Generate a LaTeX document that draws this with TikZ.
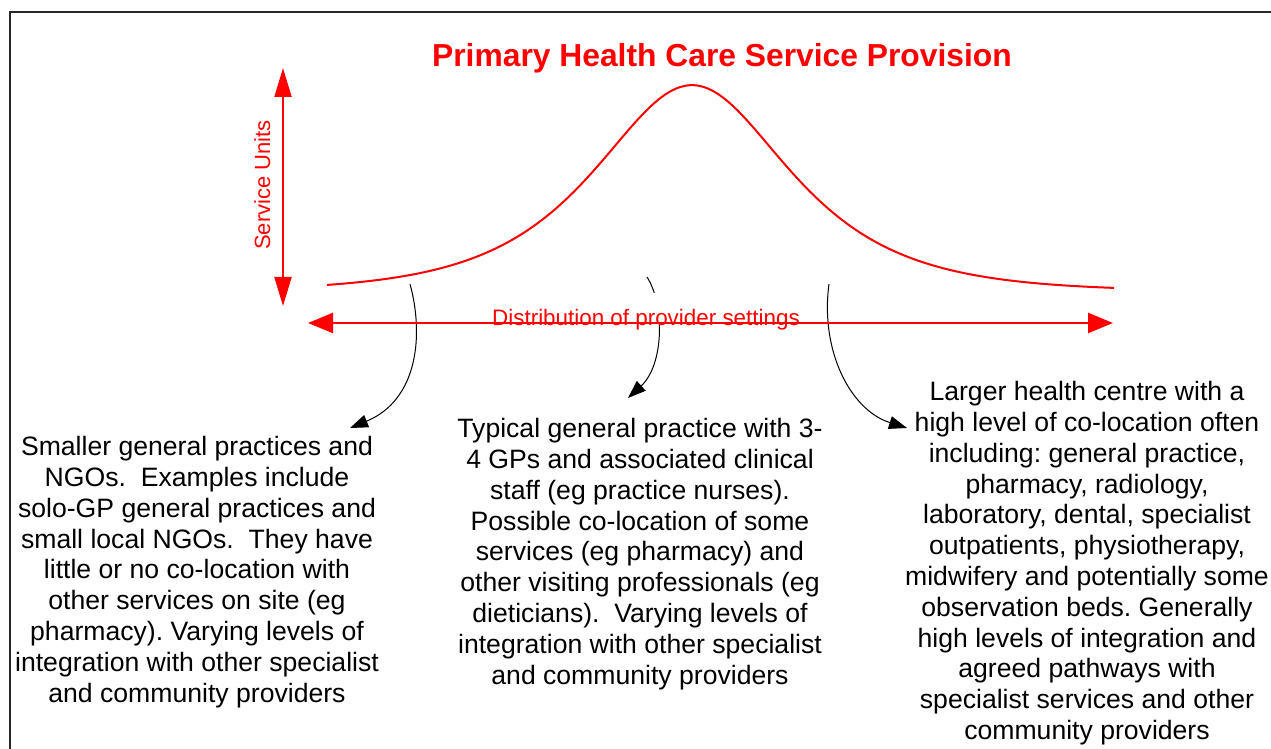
\documentclass[tikz,border=0pt]{standalone}
\usepackage{fontspec}
\setmainfont{Liberation Sans}
\usetikzlibrary{arrows.meta}
\definecolor{framegray}{RGB}{40,40,40}

\begin{document}
\begin{tikzpicture}[
    x=0.5pt, y=-0.5pt,
    note/.style={align=center, inner sep=0pt, anchor=north, font=\fontsize{13.3}{15.4}\selectfont\frenchspacing},
    pointer/.style={-{Triangle[length=9pt, width=6.5pt]}, black, line width=0.5pt},
    vaxis/.style={red, line width=1pt, {Triangle[length=14.5pt, width=8.5pt]}-{Triangle[length=14.5pt, width=8.5pt]}},
    haxis/.style={red, line width=1.3pt, {Triangle[length=12.5pt, width=10pt]}-{Triangle[length=12.5pt, width=10pt]}}
]
\useasboundingbox (0,0) rectangle (1271,749);

% === FRAME ===
\draw[framegray, line width=1pt] (10,800) -- (10,12) -- (1300,12);

% === TITLE ===
\node[font=\fontsize{15.9}{18}\selectfont\bfseries, text=red, anchor=base] (title) at (722,67) {Primary Health Care Service Provision};

% === DISTRIBUTION CURVE ===
\draw[red, line width=1pt] plot[domain=327:1114, samples=150, smooth]
    (\x, {287 - 206*(1/cosh((\x-692)/87) - 0.02)});

% Service units axis
\coordinate (utop) at (283,68);
\coordinate (ubot) at (283,306);
\draw[vaxis] (utop) -- (ubot);
\node[font=\fontsize{11}{13}\selectfont, text=red, rotate=90, anchor=base] (units) at (270,185) {Service Units};

% === PROVIDER SETTINGS (text) ===
\node[note] (small) at (197,436) {Smaller general practices and\\
    NGOs.\ \ Examples include\\
    solo-GP general practices and\\
    small local NGOs.\ \ They have\\
    little or no co-location with\\
    other services on site (eg\\
    pharmacy). Varying levels of\\
    integration with other specialist\\
    and community providers};
\node[note] (typical) at (640,418) {Typical general practice with 3-\\
    4 GPs and associated clinical\\
    staff (eg practice nurses).\\
    Possible co-location of some\\
    services (eg pharmacy) and\\
    other visiting professionals (eg\\
    dieticians).\ \ Varying levels of\\
    integration with other specialist\\
    and community providers};
\node[note] (larger) at (1087,381) {Larger health centre with a\\
    high level of co-location often\\
    including: general practice,\\
    pharmacy, radiology,\\
    laboratory, dental, specialist\\
    outpatients, physiotherapy,\\
    midwifery and potentially some\\
    observation beds. Generally\\
    high levels of integration and\\
    agreed pathways with\\
    specialist services and other\\
    community providers};

% Pointers from the curve
\coordinate (smallfrom) at (410,284);
\coordinate (smallto) at (350,428);
\coordinate (typicalfrom) at (647,277);
\coordinate (typicalto) at (628,398);
\coordinate (largerfrom) at (829,284);
\coordinate (largerto) at (907,428);
\draw[pointer] (smallfrom) .. controls (424,335) and (418,400) .. (smallto);
\draw[pointer] (typicalfrom) .. controls (665,305) and (664,365) .. (typicalto);
\draw[pointer] (largerfrom) .. controls (820,350) and (850,410) .. (largerto);

% Provider settings axis
\node[font=\fontsize{11.2}{13}\selectfont, text=red, fill=white, anchor=base, inner xsep=2pt, inner ysep=0pt, text height=16pt, text depth=0pt] (dist) at (646,325) {Distribution of provider settings};
\coordinate (dleft) at (308,323);
\coordinate (dright) at (1113,323);
\draw[haxis] (dleft) -- (dright);

\end{tikzpicture}
\end{document}
